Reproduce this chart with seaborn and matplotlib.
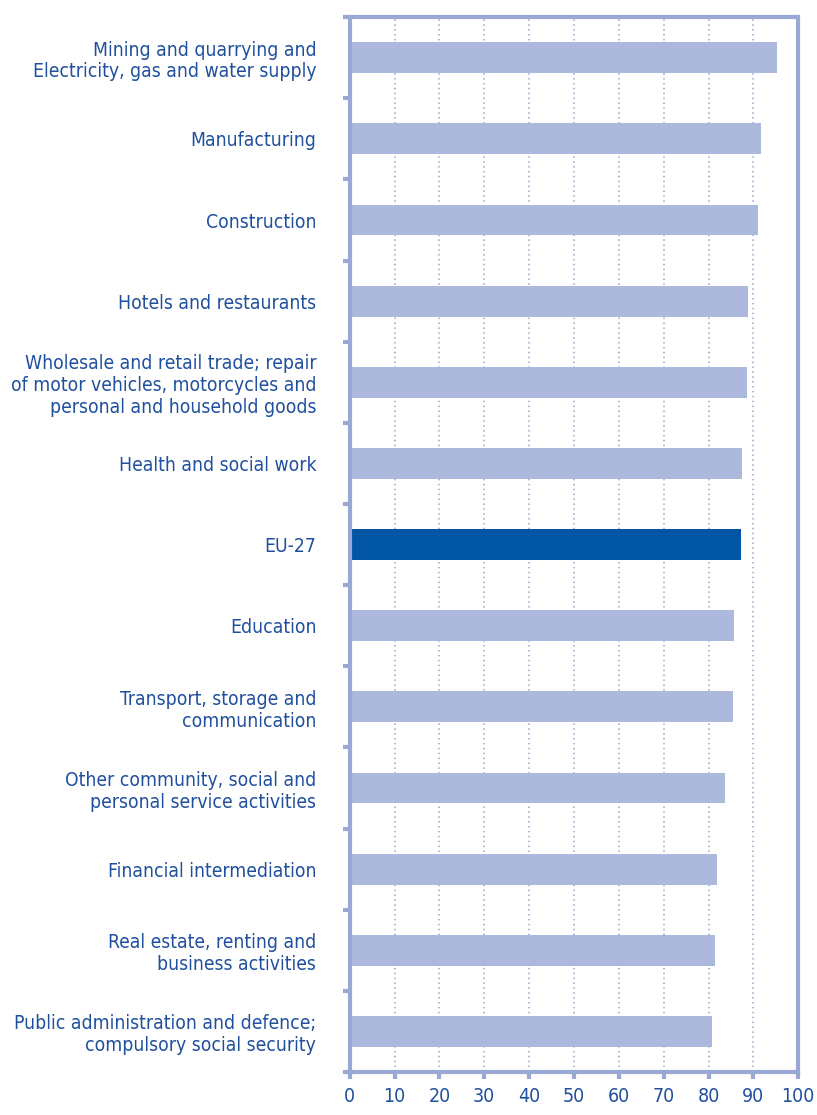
import matplotlib
matplotlib.use("Agg")
import matplotlib.pyplot as plt
import seaborn as sns
import pandas as pd
import numpy as np

categories = [
    "Mining and quarrying and\nElectricity, gas and water supply",
    "Manufacturing",
    "Construction",
    "Hotels and restaurants",
    "Wholesale and retail trade; repair\nof motor vehicles, motorcycles and\npersonal and household goods",
    "Health and social work",
    "EU-27",
    "Education",
    "Transport, storage and\ncommunication",
    "Other community, social and\npersonal service activities",
    "Financial intermediation",
    "Real estate, renting and\nbusiness activities",
    "Public administration and defence;\ncompulsory social security",
]
values = [95.2, 91.6, 91.0, 88.9, 88.5, 87.5, 87.3, 85.7, 85.5, 83.6, 81.9, 81.5, 80.8]
x_ticks = [0, 10, 20, 30, 40, 50, 60, 70, 80, 90, 100]

bar_color = "#adb9dc"
highlight_color = "#0055a4"
frame_color = "#99a8d4"
text_color = "#1f4f9e"
grid_color = "#9aa6d2"

sns.set_theme(style="white")
plt.rcParams["font.family"] = ["DejaVu Sans"]
plt.rcParams["font.stretch"] = "condensed"

df = pd.DataFrame({"sector": categories, "value": values})
palette = {c: (highlight_color if c == "EU-27" else bar_color) for c in categories}

fig = plt.figure(figsize=(8.17, 11.15), dpi=100)
ax = fig.add_axes([0.428, 0.0386, 0.549, 0.946])

sns.barplot(data=df, y="sector", x="value", hue="sector", palette=palette,
            dodge=False, legend=False, width=0.38, saturation=1, ax=ax,
            edgecolor="none")

ax.set_xlim(0, 100)
ax.set_ylim(len(categories) - 0.5, -0.5)
ax.set_xticks(x_ticks)
ax.set_xticklabels([str(t) for t in x_ticks], fontsize=14, color=text_color,
                   fontstretch="condensed")
ax.set_xlabel("")
ax.set_ylabel("")

# category labels stay at the bar centres, tick marks sit between the bands
ax.set_yticks(range(len(categories)))
ax.set_yticklabels(categories, fontsize=13.9, color=text_color, linespacing=1.18,
                   fontstretch="condensed")
ax.set_yticks(np.arange(-0.5, len(categories), 1.0), minor=True)
ax.tick_params(axis="y", which="major", length=0, pad=24)
ax.tick_params(axis="y", which="minor", length=5, width=3, color=frame_color,
               direction="out", left=True)
ax.tick_params(axis="x", which="major", length=5, width=3, color=frame_color,
               direction="out", bottom=True, pad=6)

ax.set_axisbelow(True)
ax.xaxis.grid(True, linestyle=(0, (1, 2.2)), color=grid_color, linewidth=1.1)
ax.yaxis.grid(False)

for side in ["left", "right", "top", "bottom"]:
    ax.spines[side].set_visible(True)
    ax.spines[side].set_color(frame_color)
    ax.spines[side].set_linewidth(3)

fig.savefig("out.png", dpi=100, facecolor="white")
